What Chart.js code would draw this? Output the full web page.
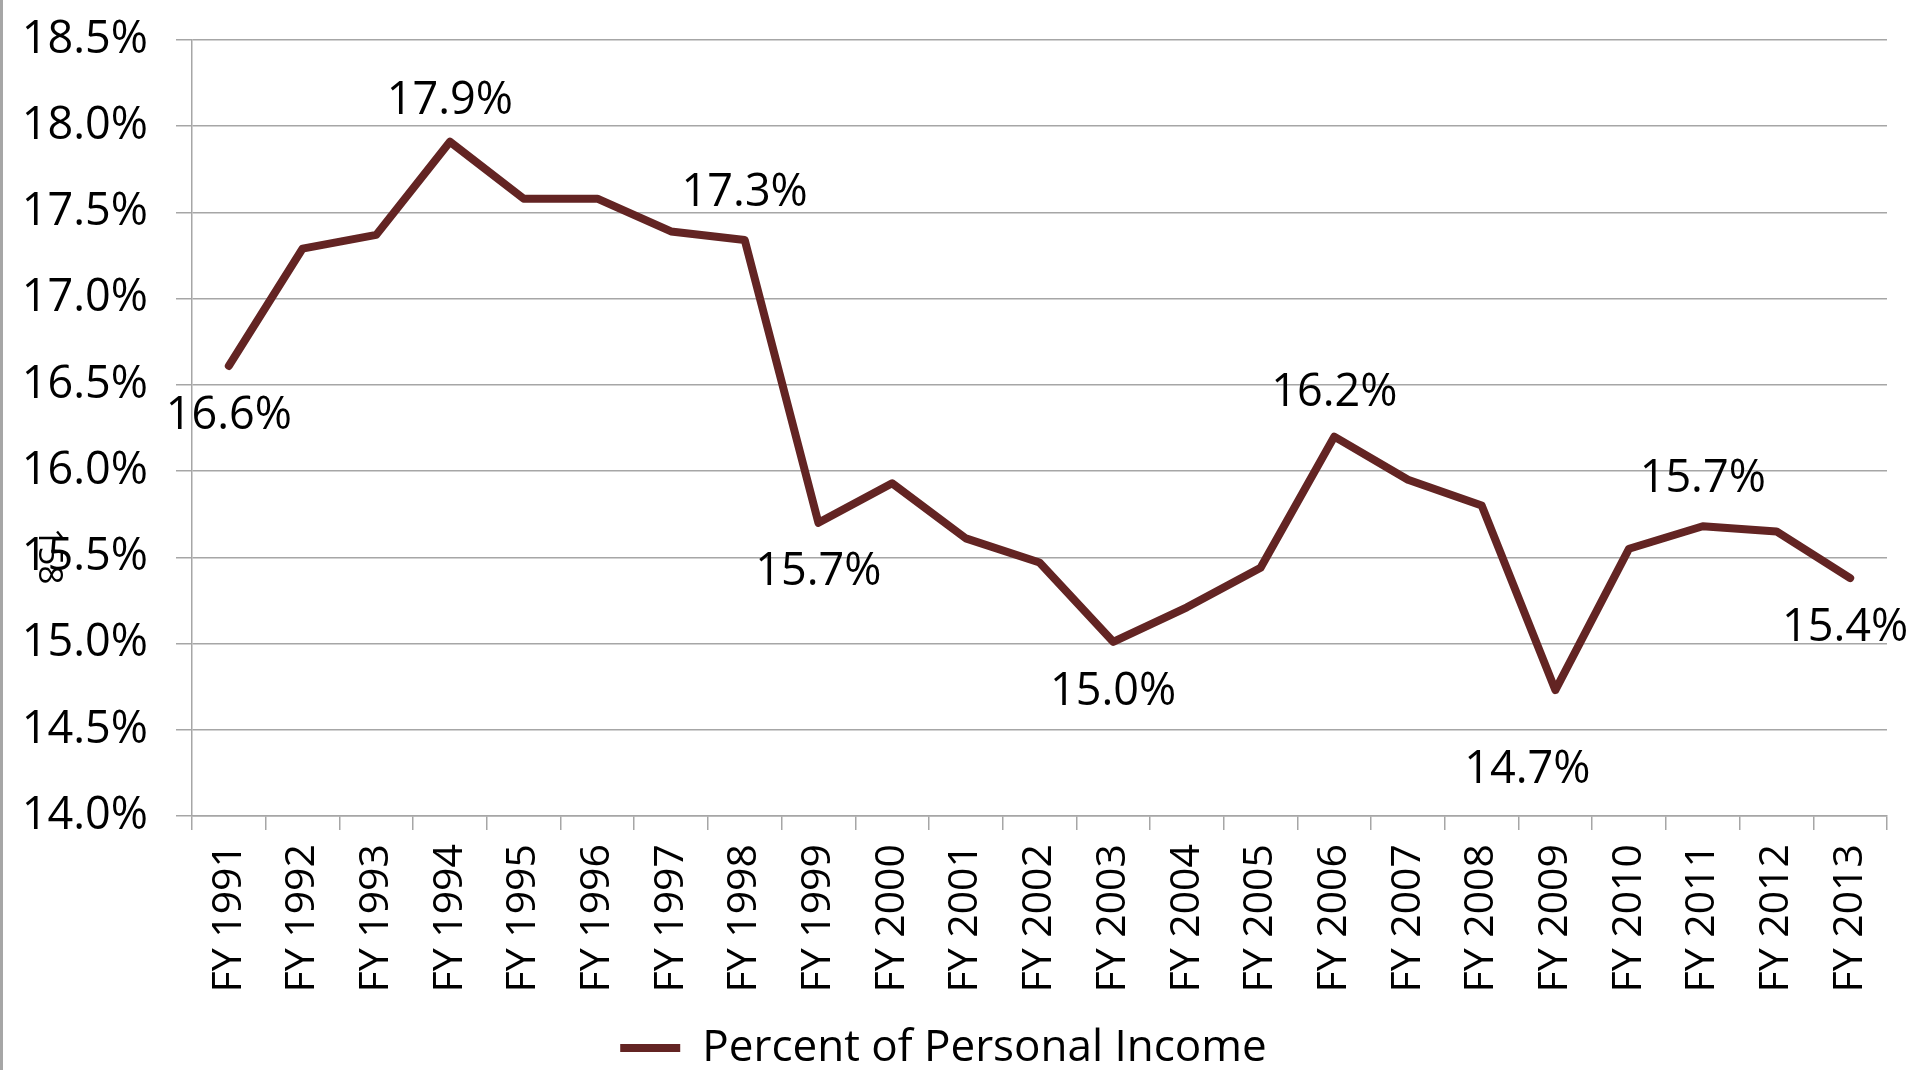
<!DOCTYPE html>
<html>
<head>
<meta charset="utf-8">
<title>Percent of Personal Income</title>
<script src="https://cdn.jsdelivr.net/npm/chart.js@4.4.1/dist/chart.umd.min.js"></script>
<style>
    html, body { margin: 0; padding: 0; background: #fff; overflow: hidden; }
    .chart-area { position: relative; width: 1915px; height: 1070px; }
    .left-edge { position: absolute; left: 0; top: 0; width: 3px; height: 1070px; background: #a6a6a6; }
</style>
</head>
<body>
<div class="chart-area">
    <canvas id="incomeChart"></canvas>
    <div class="left-edge"></div>
</div>
<script>
const years = ['FY 1991', 'FY 1992', 'FY 1993', 'FY 1994', 'FY 1995', 'FY 1996', 'FY 1997', 'FY 1998',
    'FY 1999', 'FY 2000', 'FY 2001', 'FY 2002', 'FY 2003', 'FY 2004', 'FY 2005', 'FY 2006',
    'FY 2007', 'FY 2008', 'FY 2009', 'FY 2010', 'FY 2011', 'FY 2012', 'FY 2013'];
const percentValues = [16.61, 17.29, 17.37, 17.91, 17.58, 17.58, 17.39, 17.34,
    15.70, 15.93, 15.61, 15.47, 15.01, 15.21, 15.44, 16.20,
    15.95, 15.80, 14.73, 15.55, 15.68, 15.65, 15.38];
const yMin = 14.0;
const yMax = 18.5;
const yStep = 0.5;
const labeledYears = ['FY 1991', 'FY 1994', 'FY 1998', 'FY 1999', 'FY 2003', 'FY 2006', 'FY 2009', 'FY 2011', 'FY 2013'];
const seriesName = 'Percent of Personal Income';
const pageMark = '158';

// 標籤相對於資料點的位移 [dx, dy]
let labelOffset = {
    'FY 1991': [0, 50],
    'FY 1994': [0, -41],
    'FY 1998': [0, -47],
    'FY 1999': [0, 49],
    'FY 2003': [0, 50],
    'FY 2006': [0, -43],
    'FY 2009': [-28, 80],
    'FY 2011': [0, -47],
    'FY 2013': [-5, 50]
};

let lineColor = '#632423';
let gridColor = '#a6a6a6';
let fontFamily = '"Open Sans", "Noto Sans", sans-serif';

const valueLabels = {
    id: 'valueLabels',
    afterDatasetsDraw(chart) {
        const ctx = chart.ctx;
        const meta = chart.getDatasetMeta(0);
        ctx.save();
        ctx.font = '45px ' + fontFamily;
        ctx.fillStyle = '#000';
        ctx.textAlign = 'center';
        ctx.textBaseline = 'middle';
        labeledYears.forEach(year => {
            const i = years.indexOf(year);
            const pt = meta.data[i];
            const off = labelOffset[year];
            ctx.fillText(percentValues[i].toFixed(1) + '%', pt.x + off[0], pt.y + off[1]);
        });
        ctx.restore();
    },
    afterDraw(chart) {
        // 左側殘留的頁碼
        const ctx = chart.ctx;
        ctx.save();
        ctx.translate(48, 556);
        ctx.rotate(Math.PI / 2);
        ctx.font = '33px ' + fontFamily;
        ctx.fillStyle = '#000';
        ctx.textAlign = 'center';
        ctx.textBaseline = 'middle';
        ctx.fillText(pageMark, 0, 0);
        ctx.restore();
    }
};

let chartData = {
    labels: years,
    datasets: [{
        label: seriesName,
        data: percentValues,
        borderColor: lineColor,
        backgroundColor: lineColor,
        borderWidth: 8,
        borderCapStyle: 'round',
        borderJoinStyle: 'round',
        tension: 0,
        pointRadius: 0,
        pointHoverRadius: 0,
        fill: false
    }]
};

let chartOption = {
    responsive: true,
    maintainAspectRatio: false,
    animation: false,
    layout: {
        padding: { top: 40, right: 28, left: 0, bottom: -10 }
    },
    plugins: {
        legend: {
            position: 'bottom',
            labels: {
                color: '#000',
                font: { family: fontFamily, size: 44 },
                usePointStyle: true,
                pointStyle: 'line',
                pointStyleWidth: 60,
                padding: 2
            }
        },
        tooltip: { enabled: false }
    },
    scales: {
        x: {
            offset: true,
            grid: {
                offset: true,
                drawOnChartArea: false,
                drawTicks: true,
                tickLength: 14,
                color: gridColor,
                lineWidth: 1.5
            },
            border: { display: true, color: gridColor, width: 1.5 },
            ticks: {
                color: '#000',
                font: { family: fontFamily, size: 41 },
                minRotation: 90,
                maxRotation: 90,
                autoSkip: false,
                padding: 14
            },
            afterFit(scale) {
                scale.height = 208;
            }
        },
        y: {
            min: yMin,
            max: yMax,
            ticks: {
                stepSize: yStep,
                color: '#000',
                font: { family: fontFamily, size: 45 },
                padding: 28,
                callback: function(value) {
                    return value.toFixed(1) + '%';
                }
            },
            grid: {
                color: gridColor,
                lineWidth: 1.5,
                tickLength: 16
            },
            border: { display: true, color: gridColor, width: 1.5 },
            afterFit(scale) {
                scale.width = 192;
                // tick padding 不要影響上下留白
                scale.paddingTop = 10;
                scale.paddingBottom = 10;
            }
        }
    }
};

new Chart(document.getElementById('incomeChart'), {
    type: 'line',
    data: chartData,
    options: chartOption,
    plugins: [valueLabels]
});
</script>
</body>
</html>
